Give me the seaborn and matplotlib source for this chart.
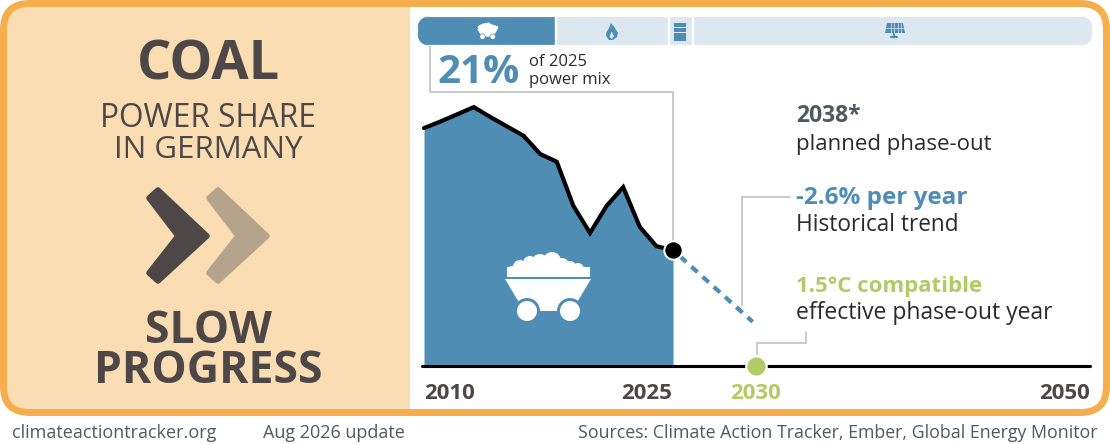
import matplotlib
matplotlib.use("Agg")
import matplotlib.pyplot as plt
from matplotlib.patches import Circle, FancyBboxPatch, Polygon, Rectangle
import pandas as pd
import seaborn as sns

# coal share of the power mix, percent
years = [2010, 2011, 2012, 2013, 2014, 2015, 2016, 2017,
         2018, 2019, 2020, 2021, 2022, 2023, 2024, 2025]
coal_share = [43.1, 44.3, 45.6, 46.9, 45.1, 43.4, 41.7, 38.4,
              37.0, 29.0, 24.1, 29.0, 32.4, 25.2, 21.7, 21.0]
trend_years = [2025, 2029.8]
trend_share = [21.0, 8.0]
compatible_year = [2030]
compatible_share = [0]
tick_years = [2010, 2025, 2030, 2050]

# 2025 mix bar along the top
mix_labels = ["coal", "gas", "other", "renewables"]
mix_shares = [20.6, 16.7, 3.55, 59.15]

ORANGE = "#F4AE4B"
PANEL = "#FADDB3"
BLUE = "#4F8DB5"
PALE = "#DCE7F0"
GREEN = "#B1CB66"
DARK = "#4D4847"
TAN = "#B5A48B"
SLATE = "#4E5A60"
GREY = "#B9BDBD"
INK = "#2B2B2B"

W, H = 1110, 444

sns.set_theme(style="white")
plt.rcParams["font.family"] = ["Open Sans", "DejaVu Sans"]

fig = plt.figure(figsize=(W / 100, H / 100), dpi=100)
bg = fig.add_axes([0, 0, 1, 1])
bg.set_xlim(0, W)
bg.set_ylim(H, 0)
bg.axis("off")


def pixel_axes(x0, y0, x1, y1):
    ax = fig.add_axes([x0 / W, 1 - y1 / H, (x1 - x0) / W, (y1 - y0) / H])
    ax.patch.set_alpha(0)
    return ax


def label(x, y, s, size, color=INK, weight="normal", ha="left"):
    bg.text(x, y, s, fontsize=size, color=color, fontweight=weight, ha=ha,
            va="baseline", zorder=6)


def leader(xs, ys):
    bg.plot(xs, ys, color=GREY, lw=1.1, solid_joinstyle="miter", zorder=2)


def draw_cart(ax, cx, cy, k, color, back, z=5):
    # cy is the top rim of the cart, k scales the 86 px wide big one
    lumps = [(-36, -8, 5), (-28, -12, 7), (-18, -16, 7), (-8, -17, 8), (4, -18, 9),
             (14, -14, 7), (22, -12, 6), (30, -10, 6), (36, -7, 5)]
    body = [(-43, 0), (43, 0), (28, 25), (20, 32), (-20, 32), (-28, 25)]
    ax.add_patch(Rectangle((cx - 41 * k, cy - 12 * k), 83 * k, 10 * k, fc=color, ec="none", zorder=z))
    for a, b, r in lumps:
        ax.add_patch(Circle((cx + k * a, cy + k * b), r * k, fc=color, ec="none", zorder=z))
    ax.add_patch(Polygon([(cx + k * a, cy + k * b) for a, b in body], fc=color,
                         ec="none", zorder=z))
    for dx in (-21, 22):
        ax.add_patch(Circle((cx + k * dx, cy + k * 32), 13 * k, fc=back, ec="none", zorder=z + 0.1))
        ax.add_patch(Circle((cx + k * dx, cy + k * 32), 10 * k, fc=color, ec="none", zorder=z + 0.2))


# frame and left panel
frame = FancyBboxPatch((5, 5), 1100, 406, boxstyle="round,pad=0,rounding_size=25",
                       fc="white", ec="none", zorder=0)
bg.add_patch(frame)
left = Rectangle((0, 0), 410, 416, fc=PANEL, ec="none", zorder=0.5)
bg.add_patch(left)
left.set_clip_path(frame)
bg.add_patch(FancyBboxPatch((3.5, 3.5), 1103, 409, boxstyle="round,pad=0,rounding_size=26",
                            fc="none", ec=ORANGE, lw=5, zorder=1))

# chevrons
for dx, col in ((0, DARK), (60, TAN)):
    pts = [(149, 198), (158, 190), (207, 236), (158, 281), (149, 273), (178, 236)]
    bg.add_patch(Polygon([(x + dx, y) for x, y in pts], fc=col, ec=col, lw=4,
                         joinstyle="round", zorder=3))

# left panel text
label(208, 79, "COAL", 39, DARK, "bold", "center")
label(208, 127, "POWER SHARE", 22.8, DARK, "normal", "center")
label(208, 158, "IN GERMANY", 22.5, DARK, "normal", "center")
label(208, 343, "SLOW", 32, DARK, "bold", "center")
label(208, 383, "PROGRESS", 32, DARK, "bold", "center")

# mix bar, clipped to a pill
mix = pixel_axes(417, 16, 1093, 46)
mix.set_xlim(0, 100)
mix.set_ylim(0, 1)
mix.axis("off")
pill = FancyBboxPatch((417, 16), 676, 30, boxstyle="round,pad=0,rounding_size=15",
                      fc="none", ec="none", transform=bg.transData)
bg.add_patch(pill)
start = 0
for i, (name, share) in enumerate(zip(mix_labels, mix_shares)):
    bars = mix.barh(0.5, share, left=start, height=1, color=BLUE if i == 0 else PALE,
                    edgecolor="white", linewidth=1.6, label=name)
    bars[0].set_clip_path(pill)
    start += share

# leader lines
leader([430, 430, 673, 673], [46, 92, 92, 250])
leader([790, 742, 742], [197, 197, 305])
leader([806, 806, 757, 757], [332, 343, 343, 355])

# chart: 2010-2050 spans 424-1088 px, baseline at 366 px
chart = pixel_axes(424, 100, 1088, 366)
chart.set_xlim(2010, 2050)
chart.set_ylim(0, 266 / 5.52)
chart.axis("off")

hist = pd.DataFrame({"year": years, "share": coal_share})
trend = pd.DataFrame({"year": trend_years, "share": trend_share})

chart.fill_between(hist["year"], hist["share"], 0, color=BLUE, lw=0, zorder=1)
sns.lineplot(data=hist, x="year", y="share", color="black", linewidth=3, ax=chart,
             zorder=3, clip_on=False, solid_joinstyle="miter", errorbar=None)
sns.lineplot(data=trend, x="year", y="share", color=BLUE, linewidth=3, ax=chart,
             zorder=2, clip_on=False, errorbar=None, linestyle=(1.33, (2.0, 1.63)))
chart.axhline(0, xmin=-0.003, xmax=1.003, color="black", lw=2.2, zorder=4, clip_on=False)
sns.scatterplot(x=years[-1:], y=coal_share[-1:], color="black", s=175, edgecolor="white",
                linewidth=1.4, ax=chart, zorder=5, clip_on=False)
sns.scatterplot(x=compatible_year, y=compatible_share, color=GREEN, s=215, edgecolor="white",
                linewidth=1.6, ax=chart, zorder=5, clip_on=False)
chart.set_xlabel("")
chart.set_ylabel("")

# icons go on a layer above the chart and the mix bar
fg = pixel_axes(0, 0, W, H)
fg.set_xlim(0, W)
fg.set_ylim(H, 0)
fg.axis("off")

draw_cart(fg, 548, 279, 1, "white", BLUE)
draw_cart(fg, 487.5, 29, 0.24, "white", BLUE)
fg.add_patch(Polygon([(606, 36), (606.5, 32), (609, 28), (611, 23), (615, 28), (618, 33),
                      (617, 37), (613, 40), (609, 40)], fc=BLUE, ec="none", zorder=5))
fg.add_patch(Polygon([(609.5, 37), (611.5, 31.5), (614, 36), (612, 39)], fc=PALE, ec="none", zorder=6))
for y0 in (23, 28, 33, 37):
    fg.add_patch(Rectangle((674, y0), 12, 3.6, fc=BLUE, ec="none", zorder=5))
fg.add_patch(Polygon([(887, 23), (903, 23), (905, 33), (885, 33)], fc=BLUE, ec="none", zorder=5))
for gx in (890.5, 894, 897.5, 901):
    fg.plot([gx, gx], [23, 33], color=PALE, lw=0.5, zorder=6)
fg.plot([886, 904], [28, 28], color=PALE, lw=0.5, zorder=6)
fg.plot([894, 894], [33, 37], color=BLUE, lw=1.4, zorder=5)
fg.plot([891, 897], [37, 37], color=BLUE, lw=1.6, zorder=5)

# year labels
for yr in tick_years:
    col = GREEN if yr == compatible_year[0] else DARK
    ha = "left" if yr == 2010 else "center" if yr == 2030 else "right"
    off = 0 if yr in (2010, 2030) else -1 if yr == 2025 else 1.5
    chart.annotate(str(yr), (yr, 0), xytext=(off, -23.5), textcoords="offset points",
                   ha=ha, va="baseline", fontsize=16, fontweight="bold", color=col)

# callouts
label(437, 83, "21%", 29, BLUE, "bold")
label(529, 66, "of 2025", 12, INK)
label(529, 84, "power mix", 12, INK)
label(796, 122, "2038*", 16.5, SLATE, "bold")
label(796, 150, "planned phase-out", 16, INK)
label(796, 204, "-2.6% per year", 17.5, BLUE, "bold")
label(796, 231, "Historical trend", 16.3, INK)
label(796, 292, "1.5°C compatible", 16, GREEN, "bold")
label(796, 319, "effective phase-out year", 16.5, INK)

# footer
label(12, 438, "climateactiontracker.org", 13, SLATE)
label(263, 438, "Aug 2026 update", 13, SLATE)
label(1098, 438, "Sources: Climate Action Tracker, Ember, Global Energy Monitor", 12.8, SLATE, ha="right")

fig.savefig("out.png", dpi=100)
